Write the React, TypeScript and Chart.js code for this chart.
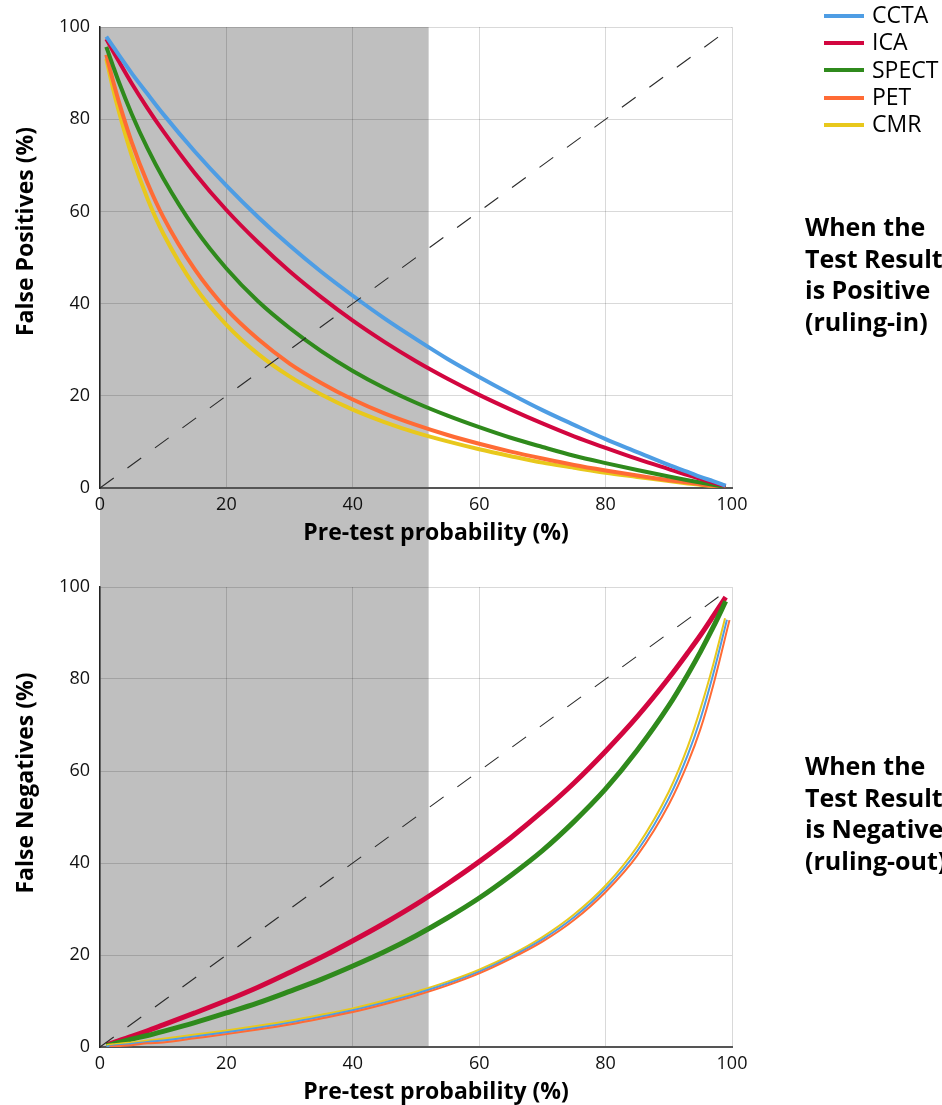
import React, { useEffect, useRef } from "react";
import { Chart, registerables } from "chart.js";

Chart.register(...registerables);

// ---------------- data ----------------
const PRETEST = [1, 2, 3, 5, 7.5, 10, 15, 20, 25, 30, 35, 40, 45, 50, 55, 60, 65, 70, 75, 80, 85, 90, 93, 95, 97, 99];
// the three thin "negative" curves end at slightly different pre-test values
const PRETEST_NEG_CCTA = [1, 2, 3, 5, 7.5, 10, 15, 20, 25, 30, 35, 40, 45, 50, 55, 60, 65, 70, 75, 80, 85, 90, 93, 95, 97, 99.2];
const PRETEST_NEG_PET = [1.5, 2, 3, 5, 7.5, 10, 15, 20, 25, 30, 35, 40, 45, 50, 55, 60, 65, 70, 75, 80, 85, 90, 93, 95, 97, 99.6];
const PRETEST_NEG_CMR = [1, 2, 3, 5, 7.5, 10, 15, 20, 25, 30, 35, 40, 45, 50, 55, 60, 65, 70, 75, 80, 85, 90, 93, 95, 97, 98.9];

const TESTS = ["CCTA", "ICA", "SPECT", "PET", "CMR"];
const TEST_COLORS = ["#4E9DE4", "#D2063F", "#2F8A1C", "#FF6B35", "#E8C81C"];

// False positives (%) when the test result is positive
const FP_CCTA = [97.9, 95.9, 93.9, 90.0, 85.5, 81.1, 73.0, 65.6, 58.8, 52.6, 46.9, 41.7, 36.8, 32.3, 28.0, 24.1, 20.4, 16.9, 13.7, 10.6, 7.8, 5.0, 3.5, 2.4, 1.5, 0.5];
const FP_ICA = [97.4, 94.9, 92.5, 87.8, 82.4, 77.4, 68.3, 60.3, 53.3, 47.0, 41.4, 36.3, 31.7, 27.5, 23.7, 20.2, 17.0, 14.0, 11.2, 8.7, 6.3, 4.1, 2.8, 2.0, 1.2, 0.4];
const FP_SPECT = [95.7, 91.8, 88.0, 81.2, 73.7, 67.2, 56.3, 47.6, 40.5, 34.7, 29.7, 25.4, 21.7, 18.5, 15.7, 13.2, 10.9, 8.9, 7.0, 5.4, 3.9, 2.5, 1.7, 1.2, 0.7, 0.2];
const FP_PET = [94.0, 88.6, 83.7, 75.1, 66.2, 58.8, 47.4, 38.8, 32.3, 27.0, 22.8, 19.2, 16.2, 13.7, 11.5, 9.6, 7.9, 6.4, 5.0, 3.8, 2.7, 1.7, 1.2, 0.8, 0.5, 0.2];
const FP_CMR = [93.1, 87.0, 81.6, 72.2, 62.8, 55.2, 43.7, 35.4, 29.1, 24.2, 20.3, 17.0, 14.3, 12.0, 10.1, 8.4, 6.9, 5.5, 4.4, 3.3, 2.4, 1.5, 1.0, 0.7, 0.4, 0.1];

// False negatives (%) when the test result is negative
const FN_CCTA = [0.1, 0.3, 0.4, 0.7, 1.1, 1.4, 2.3, 3.2, 4.2, 5.3, 6.6, 8.0, 9.7, 11.6, 13.8, 16.4, 19.6, 23.4, 28.2, 34.4, 42.6, 54.1, 63.5, 71.3, 80.9, 92.9];
const FN_ICA = [0.5, 0.9, 1.4, 2.3, 3.5, 4.8, 7.4, 10.1, 13.0, 16.2, 19.5, 23.1, 26.9, 31.0, 35.5, 40.3, 45.5, 51.2, 57.4, 64.3, 71.8, 80.2, 85.7, 89.5, 93.6, 97.8];
const FN_SPECT = [0.3, 0.6, 1.0, 1.7, 2.5, 3.4, 5.3, 7.4, 9.6, 12.1, 14.7, 17.6, 20.7, 24.2, 28.1, 32.4, 37.3, 42.7, 49.0, 56.1, 64.5, 74.2, 81.0, 85.9, 91.2, 96.9];
const FN_PET = [0.0, 0.1, 0.2, 0.4, 0.8, 1.0, 1.9, 2.8, 3.8, 4.9, 6.2, 7.6, 9.3, 11.2, 13.4, 16.0, 19.2, 22.9, 27.6, 33.7, 41.6, 52.7, 61.7, 69.1, 78.5, 92.8];
const FN_CMR = [0.4, 0.6, 0.7, 1.0, 1.4, 1.8, 2.7, 3.6, 4.6, 5.7, 7.0, 8.4, 10.1, 12.0, 14.2, 16.8, 20.0, 23.9, 28.8, 35.1, 43.6, 55.5, 65.3, 73.5, 83.0, 93.2];

const DIAGONAL_X = [0, 100];
const DIAGONAL_Y = [0, 100];

const SHADE_RANGE = [0, 52];
const AXIS_TICKS = [0, 20, 40, 60, 80, 100];

const X_TITLE = "Pre-test probability (%)";
const Y_TITLE_TOP = "False Positives (%)";
const Y_TITLE_BOTTOM = "False Negatives (%)";
const SIDE_TOP = ["When the", "Test Result", "is Positive", "(ruling-in)"];
const SIDE_BOTTOM = ["When the", "Test Result", "is Negative", "(ruling-out)"];

// ---------------- helpers ----------------
const FONT = '"Open Sans", "DejaVu Sans", sans-serif';

const pts = (xs: number[], ys: number[]) => xs.map((x, i) => ({ x, y: ys[i] }));

const shadePlugin = {
  id: "shade",
  beforeDraw(chart: any, _args: any, opts: any) {
    const { ctx, chartArea, scales } = chart;
    const x0 = scales.x.getPixelForValue(opts.from);
    const x1 = scales.x.getPixelForValue(opts.to);
    const top = opts.extendUp ? 0 : chartArea.top;
    const bottom = opts.extendDown ? chart.height : chartArea.bottom;
    ctx.save();
    ctx.fillStyle = opts.color;
    ctx.fillRect(x0, top, x1 - x0, bottom - top);
    ctx.restore();
  },
};

const titlePlugin = {
  id: "axisTitles",
  afterDraw(chart: any, _args: any, opts: any) {
    const { ctx, chartArea } = chart;
    ctx.save();
    ctx.font = `bold ${opts.size}px ${FONT}`;
    ctx.fillStyle = "#000";
    ctx.textAlign = "center";
    ctx.textBaseline = "alphabetic";
    const cx = (chartArea.left + chartArea.right) / 2 + opts.xShift;
    ctx.fillText(opts.xText, cx, chartArea.bottom + opts.xGap);
    const cy = (chartArea.top + chartArea.bottom) / 2 + opts.yShift;
    ctx.translate(opts.yBaseline, cy);
    ctx.rotate(-Math.PI / 2);
    ctx.fillText(opts.yText, 0, 0);
    ctx.restore();
  },
};

type Series = { label: string; xs: number[]; data: number[]; color: string; width: number };

function makeConfig(
  series: Series[],
  o: { xHeight: number; top: number; shadeUp: boolean; shadeDown: boolean; yText: string; yShift: number }
) {
  const datasets: any[] = [
    {
      label: "diagonal",
      data: pts(DIAGONAL_X, DIAGONAL_Y),
      borderColor: "#2a2a2a",
      borderWidth: 1.1,
      borderDash: [17, 17],
      pointRadius: 0,
      fill: false,
    },
    ...series.map((s) => ({
      label: s.label,
      data: pts(s.xs, s.data),
      borderColor: s.color,
      backgroundColor: s.color,
      borderWidth: s.width,
      pointRadius: 0,
      fill: false,
      cubicInterpolationMode: "monotone",
    })),
  ];
  return {
    type: "line",
    data: { datasets },
    options: {
      responsive: false,
      animation: false,
      devicePixelRatio: 1,
      layout: { padding: { top: o.top, right: 210, left: 0, bottom: 0 } },
      plugins: {
        legend: { display: false },
        tooltip: { enabled: false },
        shade: { from: SHADE_RANGE[0], to: SHADE_RANGE[1], color: "#BFBFBF", extendUp: o.shadeUp, extendDown: o.shadeDown },
        axisTitles: { xText: X_TITLE, yText: o.yText, size: 23, xShift: 20, xGap: 52, yBaseline: 33, yShift: o.yShift },
      },
      scales: {
        x: {
          type: "linear",
          min: 0,
          max: 100,
          afterBuildTicks: (s: any) => {
            s.ticks = AXIS_TICKS.map((v) => ({ value: v }));
          },
          ticks: { padding: 6, color: "#111", font: { family: FONT, size: 18 } },
          grid: { color: "rgba(0,0,0,0.15)", drawTicks: false, lineWidth: 1 },
          border: { color: "#555", width: 2 },
          afterFit: (s: any) => {
            s.height = o.xHeight;
          },
        },
        y: {
          type: "linear",
          min: 0,
          max: 100,
          afterBuildTicks: (s: any) => {
            s.ticks = AXIS_TICKS.map((v) => ({ value: v }));
          },
          ticks: { padding: 10, color: "#111", font: { family: FONT, size: 18 } },
          grid: { color: "rgba(0,0,0,0.15)", drawTicks: false, lineWidth: 1 },
          border: { color: "#222", width: 1.5 },
          afterFit: (s: any) => {
            s.width = 100;
          },
        },
      },
    },
    plugins: [shadePlugin, titlePlugin],
  } as any;
}

function SideLabel({ lines, top }: { lines: string[]; top: number }) {
  return (
    <div
      style={{
        position: "absolute",
        left: 805,
        top,
        fontFamily: FONT,
        fontWeight: 700,
        fontSize: 25,
        lineHeight: "31.5px",
        whiteSpace: "nowrap",
        color: "#000",
      }}
    >
      {lines.map((l) => (
        <div key={l}>{l}</div>
      ))}
    </div>
  );
}

export default function App() {
  const topRef = useRef<HTMLCanvasElement | null>(null);
  const botRef = useRef<HTMLCanvasElement | null>(null);

  useEffect(() => {
    document.body.style.margin = "0";
    const topSeries: Series[] = [FP_CCTA, FP_ICA, FP_SPECT, FP_PET, FP_CMR].map((d, i) => ({
      label: TESTS[i],
      xs: PRETEST,
      data: d,
      color: TEST_COLORS[i],
      width: 4,
    }));
    const negX = [PRETEST_NEG_CCTA, PRETEST, PRETEST, PRETEST_NEG_PET, PRETEST_NEG_CMR];
    const botAll: Series[] = [FN_CCTA, FN_ICA, FN_SPECT, FN_PET, FN_CMR].map((d, i) => ({
      label: TESTS[i],
      xs: negX[i],
      data: d,
      color: TEST_COLORS[i],
      width: i === 1 || i === 2 ? 5 : 2,
    }));
    // thin curves underneath, thick ones on top
    const botSeries = [botAll[3], botAll[0], botAll[4], botAll[2], botAll[1]];

    const c1 = new Chart(
      topRef.current as HTMLCanvasElement,
      makeConfig(topSeries, { xHeight: 72, top: 27, shadeUp: false, shadeDown: true, yText: Y_TITLE_TOP, yShift: -26 })
    );
    const c2 = new Chart(
      botRef.current as HTMLCanvasElement,
      makeConfig(botSeries, { xHeight: 58, top: 27, shadeUp: true, shadeDown: false, yText: Y_TITLE_BOTTOM, yShift: -34 })
    );
    return () => {
      c1.destroy();
      c2.destroy();
    };
  }, []);

  return (
    <div style={{ position: "relative", width: 942, height: 1105, overflow: "hidden", background: "#fff" }}>
      <canvas ref={topRef} width={942} height={560} style={{ position: "absolute", left: 0, top: 0 }} />
      <canvas ref={botRef} width={942} height={545} style={{ position: "absolute", left: 0, top: 560 }} />
      <div style={{ position: "absolute", left: 824, top: 1, fontFamily: FONT, fontSize: 23, color: "#000" }}>
        {TESTS.map((t, i) => (
          <div key={t} style={{ position: "relative", height: 27.3, lineHeight: "27.3px", paddingLeft: 48, whiteSpace: "nowrap" }}>
            <span
              style={{
                position: "absolute",
                left: 0,
                top: 12.7,
                width: 40,
                height: 4,
                background: TEST_COLORS[i],
              }}
            />
            {t}
          </div>
        ))}
      </div>
      <SideLabel lines={SIDE_TOP} top={211} />
      <SideLabel lines={SIDE_BOTTOM} top={750} />
    </div>
  );
}
